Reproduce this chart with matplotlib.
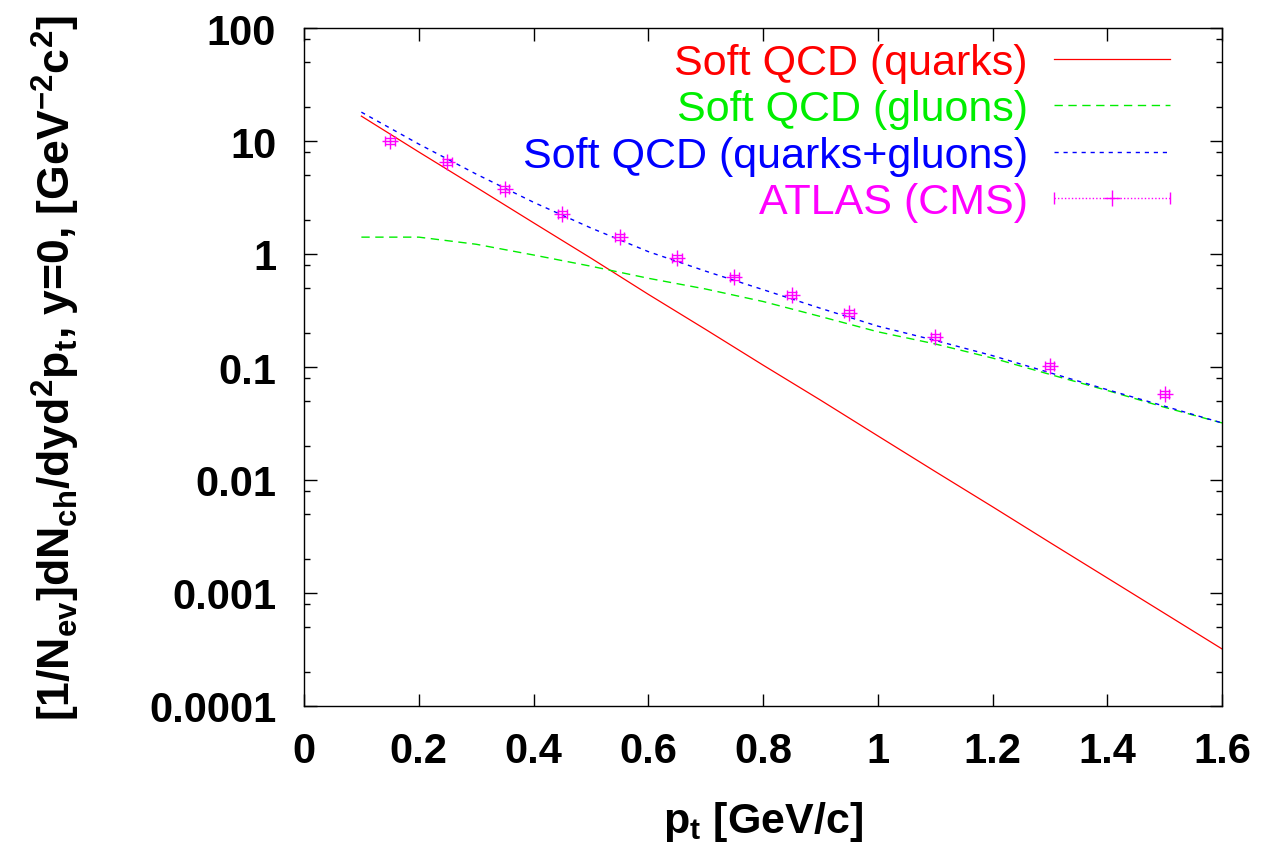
import matplotlib
matplotlib.use("Agg")
import matplotlib.pyplot as plt
from matplotlib.lines import Line2D
from matplotlib.legend_handler import HandlerTuple, HandlerLine2D
from matplotlib.ticker import LogLocator, FixedLocator, NullFormatter

# ---- data ----
pt = [0.1, 0.2, 0.3, 0.4, 0.5, 0.6, 0.7, 0.8, 0.9, 1.0, 1.1, 1.2, 1.3, 1.4, 1.5, 1.6]
quarks = [16.6, 8.0, 3.9, 1.89, 0.92, 0.44, 0.215, 0.104, 0.051, 0.0246,
          0.0119, 0.0058, 0.0028, 0.00136, 0.00066, 0.00032]
gluons = [1.41, 1.41, 1.22, 0.98, 0.78, 0.61, 0.49, 0.38, 0.28, 0.205,
          0.16, 0.12, 0.086, 0.062, 0.044, 0.032]
both = [18.0, 9.4, 5.1, 2.87, 1.70, 1.05, 0.705, 0.484, 0.331, 0.23,
        0.172, 0.126, 0.089, 0.063, 0.045, 0.032]

atlas_pt = [0.15, 0.25, 0.35, 0.45, 0.55, 0.65, 0.75, 0.85, 0.95, 1.1, 1.3, 1.5]
atlas_y = [10.1, 6.5, 3.76, 2.26, 1.42, 0.93, 0.62, 0.434, 0.30, 0.184, 0.102, 0.058]
atlas_rel_err = 0.06
atlas_xerr = 0.008

xticks = [0, 0.2, 0.4, 0.6, 0.8, 1.0, 1.2, 1.4, 1.6]
xtick_labels = ["0", "0.2", "0.4", "0.6", "0.8", "1", "1.2", "1.4", "1.6"]
yticks = [1e-4, 1e-3, 1e-2, 1e-1, 1, 10, 100]
ytick_labels = ["0.0001", "0.001", "0.01", "0.1", "1", "10", "100"]

labels = ["Soft QCD (quarks)", "Soft QCD (gluons)",
          "Soft QCD (quarks+gluons)", "ATLAS (CMS)"]

# ---- style ----
plt.rcParams['font.family'] = ['Liberation Sans', 'DejaVu Sans']
plt.rcParams['mathtext.fontset'] = 'custom'
plt.rcParams['mathtext.rm'] = 'Liberation Sans:bold'
plt.rcParams['mathtext.it'] = 'Liberation Sans:bold'
plt.rcParams['mathtext.bf'] = 'Liberation Sans:bold'
plt.rcParams['mathtext.default'] = 'rm'

RED, GREEN, BLUE, MAG = '#ff0000', '#00ee00', '#0000ff', '#ff00ff'
FS = 30
LFS = 31

fig = plt.figure(figsize=(12.61, 8.45), dpi=100)
ax = fig.add_axes([304 / 1261, 1 - 707 / 845, (1222 - 304) / 1261, (707 - 29) / 845])

l1, = ax.plot(pt, quarks, color=RED, lw=0.9, ls='-')
l2, = ax.plot(pt, gluons, color=GREEN, lw=1.0, ls=(0, (6, 4)))
l3, = ax.plot(pt, both, color=BLUE, lw=1.0, ls=(0, (3, 3.5)))

yerr = [v * atlas_rel_err for v in atlas_y]
ax.errorbar(atlas_pt, atlas_y, xerr=atlas_xerr, yerr=yerr, fmt='+', color=MAG,
            ms=12, mew=1.0, elinewidth=0.8, capsize=3.5, capthick=0.8, zorder=5)

ax.set_yscale('log')
ax.set_xlim(0, 1.6)
ax.set_ylim(1e-4, 100)

ax.xaxis.set_major_locator(FixedLocator(xticks))
ax.set_xticklabels(xtick_labels)
ax.yaxis.set_major_locator(FixedLocator(yticks))
ax.set_yticklabels(ytick_labels)
ax.yaxis.set_minor_locator(LogLocator(base=10, subs=[2, 5, 8], numticks=20))
ax.yaxis.set_minor_formatter(NullFormatter())

ax.tick_params(axis='both', which='major', direction='in', length=9, width=1,
               top=True, right=True, labelsize=FS)
ax.tick_params(axis='y', which='minor', direction='in', length=4.5, width=1,
               right=True)
ax.tick_params(axis='x', which='major', pad=18)
ax.tick_params(axis='y', which='major', pad=20)
for lab in ax.get_xticklabels() + ax.get_yticklabels():
    lab.set_fontweight('bold')
for s in ax.spines.values():
    s.set_linewidth(1.0)
    s.set_color('black')

ax.set_xlabel(r'p$_t$ [GeV/c]', fontsize=LFS, fontweight='bold', labelpad=20)
ax.set_ylabel(r'[1/N$_{ev}$]dN$_{ch}$/dyd$^2$p$_t$, y=0, [GeV$^{-2}$c$^2$]',
              fontsize=32, fontweight='bold', labelpad=48)

# ---- legend ----
h_line = Line2D([], [], color=MAG, lw=1.0, ls=(0, (1, 1.5)))
h_plus = Line2D([], [], color=MAG, lw=0, marker='+', ms=11, mew=1.0)
h_caps = Line2D([], [], color=MAG, lw=0, marker='|', ms=8, mew=1.0)
atlas_handle = (h_line, h_plus, h_caps)

leg = ax.legend([l1, l2, l3, atlas_handle], labels,
                handler_map={tuple: HandlerTuple(ndivide=1, pad=0),
                             h_caps: HandlerLine2D(numpoints=2, marker_pad=0)},
                loc='upper right', bbox_to_anchor=(0.9434, 0.978),
                borderaxespad=0, borderpad=0, frameon=False,
                markerfirst=False, fontsize=LFS, handlelength=2.7,
                handletextpad=0.6, labelspacing=0.15, numpoints=1)
for txt, col in zip(leg.get_texts(), [RED, GREEN, BLUE, MAG]):
    txt.set_color(col)
    txt.set_ha('right')

fig.savefig('out.png', dpi=100)
